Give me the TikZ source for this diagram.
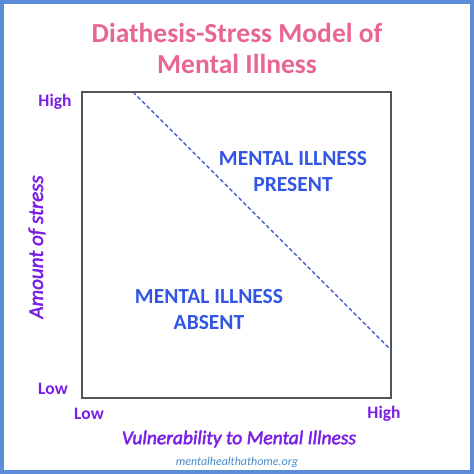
\documentclass[tikz,border=0pt]{standalone}
\usepackage{fontspec}
\setmainfont{Carlito}
\newfontfamily\axfont{Carlito}[FakeBold=2.2]
\definecolor{framecol}{HTML}{5C8BD8}
\definecolor{titlecol}{HTML}{E9668E}
\definecolor{axiscol}{HTML}{7A1FE6}
\definecolor{regioncol}{HTML}{3355E6}
\definecolor{dashcol}{HTML}{3550C8}
\definecolor{urlcol}{HTML}{4A8BC8}
\definecolor{boxcol}{HTML}{555555}
\tikzset{
  titletext/.style={text=titlecol, font=\fontsize{27.5}{31}\selectfont\bfseries, align=center},
  ticktext/.style={text=axiscol, font=\fontsize{17.5}{20}\selectfont\bfseries},
  axistext/.style={text=axiscol, font=\axfont\fontsize{19.5}{22}\selectfont\itshape},
  yaxistext/.style={text=axiscol, font=\axfont\fontsize{21}{24}\selectfont\itshape},
  regiontext/.style={text=regioncol, font=\fontsize{21.5}{26}\selectfont\bfseries, align=center},
  urltext/.style={text=urlcol, font=\fontsize{12}{14}\selectfont\itshape},
}
\begin{document}
\begin{tikzpicture}[x=1pt,y=-1pt]
\useasboundingbox (0,0) rectangle (474,474);
\fill[white] (0,0) rectangle (474,474);
\draw[framecol, line width=4pt] (2,2) rectangle (472,472);
% plot box
\coordinate (tl) at (82,92);
\coordinate (br) at (391,398);
\draw[boxcol, line width=1.6pt] (tl) rectangle (br);
\coordinate (d1) at (133,92);
\coordinate (d2) at (391,350);
\draw[dashcol, line width=1.2pt, dash pattern=on 4pt off 2.5pt] (d1) -- (d2);
% title
\node[titletext] (title) at (237,48) {Diathesis-Stress Model of\\Mental Illness};
% ticks
\node[ticktext] (yhigh) at (55,102) {High};
\node[ticktext] (ylow) at (53,389) {Low};
\node[ticktext] (xlow) at (89,414) {Low};
\node[ticktext] (xhigh) at (384,414) {High};
% axis titles
\node[yaxistext, rotate=90] (ylab) at (37,247) {Amount of stress};
\node[axistext] (xlab) at (239,439) {Vulnerability to Mental Illness};
\node[urltext] (url) at (237,462) {mentalhealthathome.org};
% regions
\node[regiontext] (present) at (293,172) {MENTAL ILLNESS\\PRESENT};
\node[regiontext] (absent) at (209,310) {MENTAL ILLNESS\\ABSENT};
\end{tikzpicture}
\end{document}
